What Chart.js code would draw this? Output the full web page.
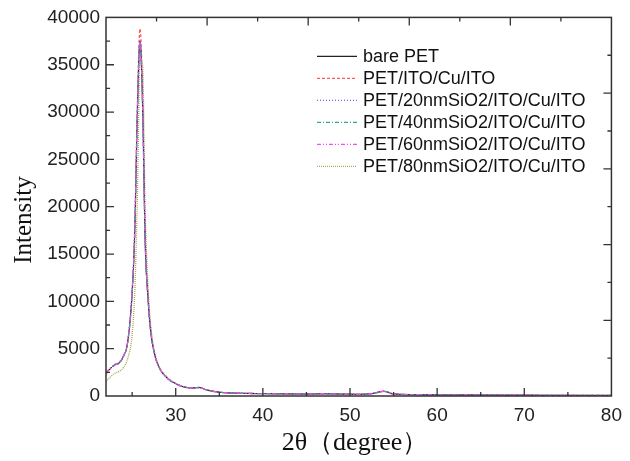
<!DOCTYPE html>
<html>
<head>
<meta charset="utf-8">
<script src="https://cdn.jsdelivr.net/npm/chart.js@4.4.1/dist/chart.umd.min.js"></script>
<style>
  html, body { margin: 0; padding: 0; background: #fff; }
  #wrap { width: 630px; height: 461px; }
</style>
</head>
<body>
<div id="wrap"><canvas id="xrdChart"></canvas></div>
<script>
// 2-theta positions (degree)
const twoTheta = [22, 22.5, 23, 23.5, 24, 24.5, 25, 25.3, 25.6, 25.9, 26.2, 26.5, 26.8, 27.1, 27.5, 28, 29, 30, 31, 32, 32.7, 33.5, 35, 37, 40, 43, 45, 47, 49, 51, 52.5, 53.9, 55, 57, 60, 65, 70, 75, 80];

const barePET   = [2400, 2900, 3300, 3500, 4200, 5800, 11000, 17500, 30000, 37500, 30500, 16000, 10500, 7000, 4700, 3200, 1900, 1300, 950, 850, 900, 650, 400, 300, 250, 220, 200, 240, 200, 180, 250, 500, 220, 150, 120, 100, 80, 70, 60];
const itoCuIto  = [2300, 2850, 3250, 3450, 4150, 5700, 10800, 17200, 30500, 38800, 32000, 17000, 11000, 7300, 4800, 3250, 1950, 1300, 950, 850, 900, 650, 400, 300, 250, 220, 200, 240, 200, 180, 250, 480, 220, 150, 120, 100, 80, 70, 60];
const sio2_20   = [2450, 2950, 3300, 3500, 4200, 5800, 11100, 17600, 30200, 37300, 30800, 16200, 10600, 7100, 4700, 3200, 1900, 1300, 950, 850, 900, 650, 400, 300, 250, 220, 200, 240, 200, 180, 250, 500, 220, 150, 120, 100, 80, 70, 60];
const sio2_40   = [2400, 2900, 3300, 3500, 4200, 5750, 10900, 17400, 29800, 37400, 30600, 16300, 10700, 7100, 4700, 3200, 1900, 1300, 950, 850, 900, 650, 400, 300, 250, 220, 200, 240, 200, 180, 250, 490, 220, 150, 120, 100, 80, 70, 60];
const sio2_60   = [2450, 2950, 3350, 3550, 4250, 5850, 11200, 17700, 30300, 37600, 30700, 16400, 10700, 7200, 4750, 3200, 1900, 1300, 950, 850, 900, 650, 400, 300, 250, 220, 200, 240, 200, 180, 250, 500, 220, 150, 120, 100, 80, 70, 60];
const sio2_80   = [1500, 2000, 2400, 2600, 3000, 4000, 6500, 11000, 21000, 35500, 35000, 19500, 12000, 7800, 5000, 3300, 2000, 1350, 950, 850, 900, 650, 400, 300, 250, 220, 200, 240, 200, 180, 250, 490, 220, 150, 120, 100, 80, 70, 60];

const seriesNames = ['bare PET', 'PET/ITO/Cu/ITO', 'PET/20nmSiO2/ITO/Cu/ITO', 'PET/40nmSiO2/ITO/Cu/ITO', 'PET/60nmSiO2/ITO/Cu/ITO', 'PET/80nmSiO2/ITO/Cu/ITO'];
const seriesValues = [barePET, itoCuIto, sio2_20, sio2_40, sio2_60, sio2_80];
const seriesColors = ['#222222', '#ff5a5a', '#6a6aff', '#2fa898', '#f24cf2', '#a8a85a'];
const seriesDashes = [[], [3, 2], [1, 2], [4, 2, 1, 2], [4, 2, 1, 2, 1, 2], [1, 1]];

const xTickLabels = [30, 40, 50, 60, 70, 80];

function toPoints(ys) {
    return twoTheta.map((x, i) => ({ x: x, y: ys[i] }));
}

// draw order: yellow first so the others sit on top
const datasets = seriesNames.map((name, i) => ({
    label: name,
    data: toPoints(seriesValues[i]),
    borderColor: seriesColors[i],
    borderDash: seriesDashes[i],
    borderWidth: i === 0 ? 1 : 1.3,
    pointRadius: 0,
    fill: false,
    cubicInterpolationMode: 'monotone',
    order: i === 0 ? 3 : (i === 5 ? 6 : 5 - i)
}));

const serif = '"Liberation Serif", "Times New Roman", serif';
const sans = '"Liberation Sans", Arial, sans-serif';

// inward ticks, frame, in-plot legend, axis titles
const framePlugin = {
    id: 'frame',
    afterDraw(chart) {
        const ctx = chart.ctx;
        const a = chart.chartArea;
        const xs = chart.scales.x, ys = chart.scales.y;
        ctx.save();
        ctx.strokeStyle = '#333';
        ctx.lineWidth = 1.5;
        ctx.strokeRect(a.left, a.top, a.right - a.left, a.bottom - a.top);

        ctx.lineWidth = 1.3;
        ctx.beginPath();
        for (let v = 25; v < 80; v += 5) {
            const px = xs.getPixelForValue(v);
            const len = v % 10 === 0 ? 8 : 4;
            ctx.moveTo(px, a.bottom); ctx.lineTo(px, a.bottom - len);
        }
        for (let v = 2500; v < 40000; v += 2500) {
            const py = ys.getPixelForValue(v);
            const len = v % 5000 === 0 ? 8 : 4;
            ctx.moveTo(a.left, py); ctx.lineTo(a.left + len, py);
        }
        // top and right axes: ten divisions
        for (let k = 1; k < 10; k++) {
            const px = a.left + (a.right - a.left) * k / 10;
            const py = a.top + (a.bottom - a.top) * k / 10;
            const len = k % 2 === 0 ? 8 : 4;
            ctx.moveTo(px, a.top); ctx.lineTo(px, a.top + len);
            ctx.moveTo(a.right, py); ctx.lineTo(a.right - len, py);
        }
        ctx.stroke();

        // legend
        const lx = a.left + 211, ly = a.top + 39, step = 22;
        ctx.font = '18px ' + sans;
        ctx.textBaseline = 'middle';
        ctx.fillStyle = '#111';
        chart.data.datasets.forEach((ds, i) => {
            const y = ly + i * step;
            ctx.beginPath();
            ctx.strokeStyle = ds.borderColor;
            ctx.lineWidth = 1.2;
            ctx.setLineDash(ds.borderDash);
            ctx.moveTo(lx, y); ctx.lineTo(lx + 40, y);
            ctx.stroke();
            ctx.setLineDash([]);
            ctx.fillText(ds.label, lx + 46, y + 1);
        });

        // axis titles
        ctx.fillStyle = '#111';
        ctx.font = '26px ' + serif;
        ctx.textAlign = 'center';
        ctx.textBaseline = 'middle';
        ctx.fillText('2θ（degree）', 355, 443);
        ctx.translate(24, 220);
        ctx.rotate(-Math.PI / 2);
        ctx.font = '25px ' + serif;
        ctx.fillText('Intensity', 0, 0);
        ctx.restore();
    }
};

const config = {
    type: 'line',
    data: { datasets: datasets },
    options: {
        responsive: true,
        maintainAspectRatio: false,
        animation: false,
        layout: { padding: { top: 16, right: 14, left: 0, bottom: 0 } },
        plugins: {
            legend: { display: false },
            tooltip: { enabled: false }
        },
        scales: {
            x: {
                type: 'linear',
                min: 22,
                max: 80,
                grid: { display: false, drawTicks: false },
                border: { display: false },
                afterBuildTicks(scale) {
                    scale.ticks = xTickLabels.map(v => ({ value: v }));
                },
                afterFit(scale) { scale.height = 65; },
                ticks: {
                    padding: 8,
                    color: '#222',
                    font: { family: sans, size: 19 },
                    maxRotation: 0,
                    callback: v => String(v)
                }
            },
            y: {
                min: 0,
                max: 40000,
                grid: { display: false, drawTicks: false },
                border: { display: false },
                afterFit(scale) { scale.width = 106; },
                ticks: {
                    stepSize: 5000,
                    padding: 6,
                    color: '#222',
                    font: { family: sans, size: 19 },
                    callback: v => String(v)
                }
            }
        }
    },
    plugins: [framePlugin]
};

const xrdChart = new Chart(document.getElementById('xrdChart'), config);
</script>
</body>
</html>
